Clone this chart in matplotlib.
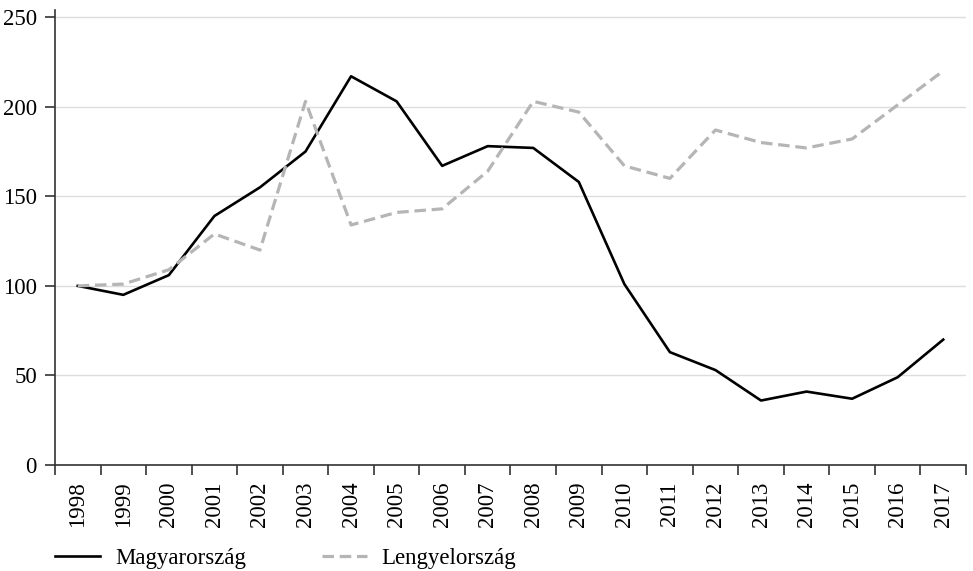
import matplotlib.pyplot as plt
from matplotlib.ticker import FixedLocator

years = [str(y) for y in range(1998, 2018)]
hungary = [100, 95, 106, 139, 155, 175, 217, 203, 167, 178, 177, 158,
           101, 63, 53, 36, 41, 37, 49, 70]
poland = [100, 101, 109, 129, 120, 203, 134, 141, 143, 164, 203, 197,
          167, 160, 187, 180, 177, 182, 201, 220]

plt.rcParams['font.family'] = ['Liberation Serif', 'DejaVu Serif']
plt.rcParams['font.size'] = 16.5

fig = plt.figure(figsize=(9.73, 5.71), dpi=100)
ax = fig.add_axes([0.0565, 0.1856, 0.9363, 0.7969])

x = range(len(years))
ax.plot(x, hungary, color='black', lw=1.9, label='Magyarország')
ax.plot(x, poland, color='#b5b5b5', lw=2.3, dashes=(3.6, 1.8),
        label='Lengyelország')

ax.set_xlim(-0.5, len(years) - 0.5)
ax.set_ylim(0, 254)
ax.set_yticks([0, 50, 100, 150, 200, 250])
ax.yaxis.grid(True, color='#dddddd', lw=1)
ax.set_axisbelow(True)

ax.set_xticks(list(x))
ax.set_xticklabels(years, rotation=90)
ax.xaxis.set_minor_locator(FixedLocator([i - 0.5 for i in range(len(years) + 1)]))
ax.tick_params(axis='x', which='major', length=0, pad=12)
ax.tick_params(axis='x', which='minor', length=7, width=1.2, color='#333333')
ax.tick_params(axis='y', length=7, width=1.2, color='#333333', pad=6)

for s in ['top', 'right']:
    ax.spines[s].set_visible(False)
for s in ['left', 'bottom']:
    ax.spines[s].set_color('#333333')
    ax.spines[s].set_linewidth(1.2)

fig.legend(loc='center left', bbox_to_anchor=(0.0565, 0.022), ncol=2,
           frameon=False, borderpad=0, borderaxespad=0, handlelength=1.97,
           handletextpad=0.65, columnspacing=3.3)

plt.savefig('out.png', dpi=100)
